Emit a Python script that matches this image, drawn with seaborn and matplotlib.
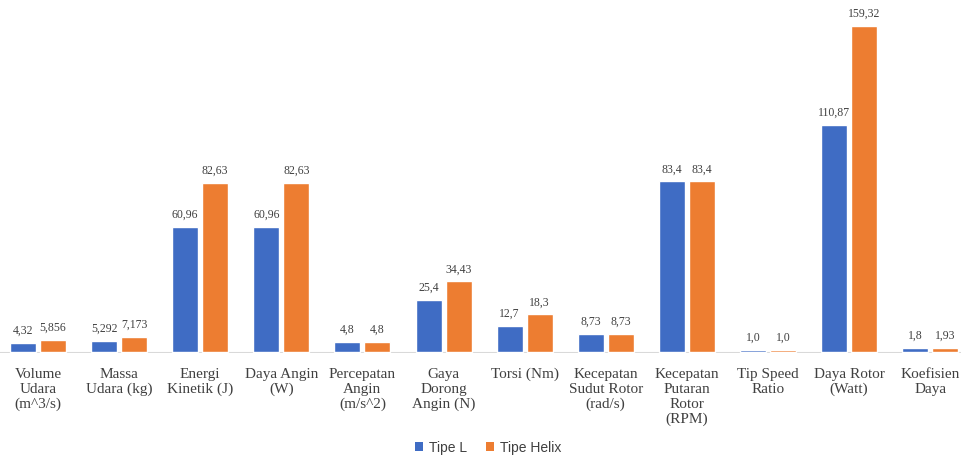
import matplotlib
matplotlib.use("Agg")
import matplotlib.pyplot as plt
import seaborn as sns
import pandas as pd
from matplotlib.patches import Patch

categories = ["Volume\nUdara\n(m^3/s)", "Massa\nUdara (kg)", "Energi\nKinetik (J)",
              "Daya Angin\n(W)", "Percepatan\nAngin\n(m/s^2)", "Gaya\nDorong\nAngin (N)",
              "Torsi (Nm)", "Kecepatan\nSudut Rotor\n(rad/s)", "Kecepatan\nPutaran\nRotor\n(RPM)",
              "Tip Speed\nRatio", "Daya Rotor\n(Watt)", "Koefisien\nDaya"]
tipe_l_labels = ["4,32", "5,292", "60,96", "60,96", "4,8", "25,4", "12,7", "8,73",
                 "83,4", "1,0", "110,87", "1,8"]
tipe_helix_labels = ["5,856", "7,173", "82,63", "82,63", "4,8", "34,43", "18,3", "8,73",
                     "83,4", "1,0", "159,32", "1,93"]
series = ["Tipe L", "Tipe Helix"]
colors = ["#3F6CC4", "#ED7D31"]

tipe_l = [float(s.replace(",", ".")) for s in tipe_l_labels]
tipe_helix = [float(s.replace(",", ".")) for s in tipe_helix_labels]

df = pd.DataFrame({
    "cat": categories * 2,
    "val": tipe_l + tipe_helix,
    "series": [series[0]] * len(categories) + [series[1]] * len(categories),
})

sns.set_style("white")
fig = plt.figure(figsize=(9.62, 4.56), dpi=100)
ax = fig.add_axes([0, 102 / 456, 1, 354 / 456])
sns.barplot(data=df, x="cat", y="val", hue="series", palette=colors,
            width=0.74, gap=0.135, ax=ax, legend=False, saturation=1, zorder=3)

for cont, labs in zip(ax.containers, [tipe_l_labels, tipe_helix_labels]):
    ax.bar_label(cont, labels=labs, padding=5, fontsize=8.5, color="#404040",
                 family="Liberation Serif")

ax.set_xlim(-0.469, 11.393)
ax.set_ylim(-0.6, 172.5)
ax.set_xlabel("")
ax.set_ylabel("")
ax.set_yticks([])
for s in ["top", "right", "left", "bottom"]:
    ax.spines[s].set_visible(False)
ax.axhline(-0.6, color="#d9d9d9", lw=1.5, zorder=1)
ax.tick_params(axis="x", length=0, pad=10, labelsize=11, labelcolor="#404040")
for t in ax.get_xticklabels():
    t.set_family("Liberation Serif")
    t.set_linespacing(1.2)

handles = [Patch(facecolor=c, edgecolor="none") for c in colors]
fig.legend(handles, series, loc="center", bbox_to_anchor=(488 / 962, 1 - 448 / 456),
           ncol=2, frameon=False, handlelength=0.6, handleheight=0.6,
           handletextpad=0.4, columnspacing=1.4,
           prop={"family": "Liberation Sans", "size": 10}, labelcolor="#404040")

fig.savefig("out.png", dpi=100, facecolor="white")
